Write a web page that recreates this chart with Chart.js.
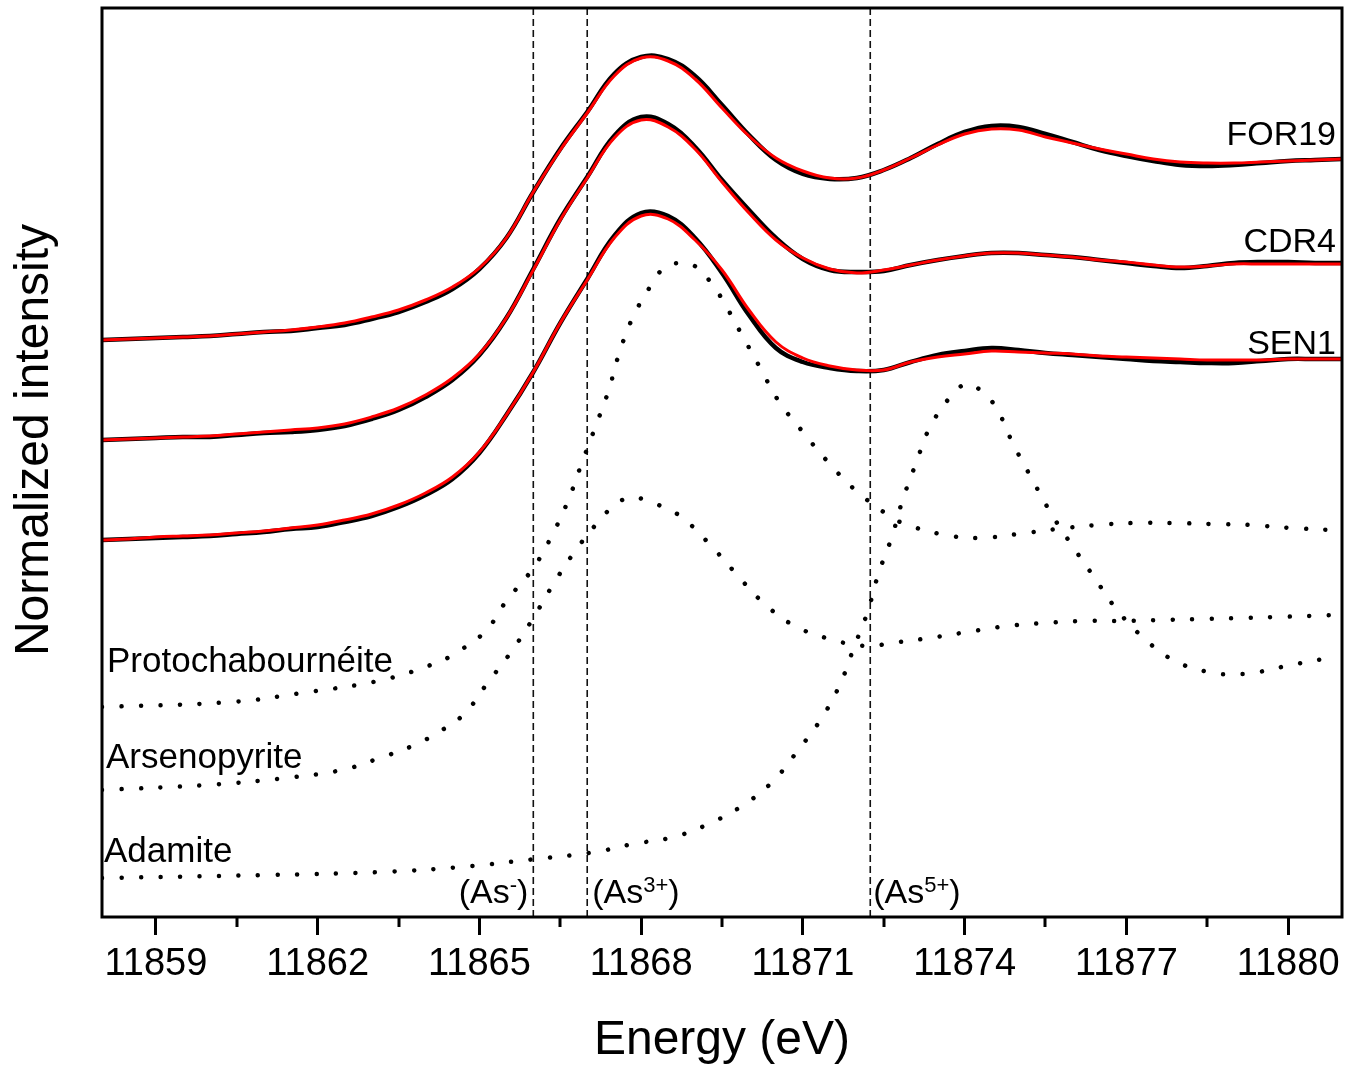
<!DOCTYPE html>
<html>
<head>
<meta charset="utf-8">
<script src="https://cdn.jsdelivr.net/npm/chart.js@4.4.0/dist/chart.umd.min.js"></script>
<style>
  html, body { margin: 0; padding: 0; background: #fff; }
  #wrap { width: 1357px; height: 1072px; }
</style>
</head>
<body>
<div id="wrap"><canvas id="xanes"></canvas></div>
<script>
// energy grid shared by the sample spectra (eV)
const energies = [11858, 11858.5, 11859, 11859.5, 11860, 11860.5, 11861, 11861.5, 11862, 11862.5,
  11863, 11863.5, 11864, 11864.5, 11865, 11865.5, 11866, 11866.5, 11867, 11867.5,
  11868, 11868.5, 11869, 11869.5, 11870, 11870.5, 11871, 11871.5, 11872, 11872.5,
  11873, 11873.5, 11874, 11874.5, 11875, 11875.5, 11876, 11876.5, 11877, 11877.5,
  11878, 11878.5, 11879, 11879.5, 11880, 11880.5, 11881];

// measured spectra (black) and linear-combination fits (red), stacked with offsets
const for19Data = [5.77, 5.78, 5.79, 5.80, 5.81, 5.83, 5.85, 5.86, 5.89, 5.92,
  5.98, 6.05, 6.15, 6.28, 6.48, 6.79, 7.25, 7.68, 8.05, 8.43,
  8.60, 8.58, 8.41, 8.12, 7.82, 7.57, 7.43, 7.38, 7.39, 7.47,
  7.59, 7.73, 7.85, 7.91, 7.90, 7.83, 7.75, 7.67, 7.61, 7.56,
  7.52, 7.51, 7.52, 7.54, 7.56, 7.57, 7.58];
const for19Fit = [5.77, 5.78, 5.79, 5.80, 5.81, 5.83, 5.85, 5.87, 5.90, 5.94,
  6.00, 6.07, 6.17, 6.30, 6.49, 6.79, 7.25, 7.67, 8.04, 8.41,
  8.59, 8.56, 8.38, 8.09, 7.81, 7.59, 7.46, 7.39, 7.39, 7.47,
  7.59, 7.72, 7.83, 7.88, 7.87, 7.80, 7.74, 7.68, 7.63, 7.58,
  7.55, 7.54, 7.54, 7.55, 7.56, 7.57, 7.58];

const cdr4Data = [4.77, 4.78, 4.79, 4.80, 4.80, 4.82, 4.84, 4.85, 4.87, 4.91,
  4.98, 5.07, 5.20, 5.37, 5.62, 5.99, 6.48, 6.98, 7.40, 7.81,
  8.00, 7.93, 7.70, 7.37, 7.07, 6.79, 6.58, 6.47, 6.45, 6.46,
  6.52, 6.57, 6.61, 6.64, 6.64, 6.62, 6.60, 6.57, 6.54, 6.51,
  6.49, 6.51, 6.54, 6.55, 6.55, 6.54, 6.54];
const cdr4Fit = [4.77, 4.78, 4.79, 4.80, 4.81, 4.83, 4.85, 4.87, 4.89, 4.93,
  5.00, 5.09, 5.22, 5.39, 5.63, 5.99, 6.47, 6.97, 7.39, 7.79,
  7.97, 7.90, 7.68, 7.35, 7.04, 6.77, 6.59, 6.48, 6.44, 6.47,
  6.52, 6.57, 6.61, 6.64, 6.64, 6.62, 6.60, 6.57, 6.55, 6.52,
  6.50, 6.51, 6.53, 6.53, 6.53, 6.53, 6.53];

const sen1Data = [3.77, 3.78, 3.79, 3.80, 3.81, 3.83, 3.85, 3.88, 3.90, 3.95,
  4.01, 4.10, 4.22, 4.38, 4.64, 5.02, 5.45, 5.94, 6.38, 6.81,
  7.04, 7.01, 6.79, 6.44, 6.02, 5.69, 5.55, 5.49, 5.46, 5.47,
  5.55, 5.62, 5.66, 5.69, 5.67, 5.64, 5.62, 5.60, 5.58, 5.56,
  5.55, 5.54, 5.54, 5.56, 5.58, 5.58, 5.58];
const sen1Fit = [3.77, 3.78, 3.80, 3.81, 3.82, 3.84, 3.86, 3.89, 3.92, 3.97,
  4.03, 4.12, 4.24, 4.40, 4.65, 5.02, 5.45, 5.94, 6.37, 6.79,
  7.01, 6.98, 6.77, 6.47, 6.07, 5.75, 5.59, 5.51, 5.47, 5.47,
  5.55, 5.60, 5.63, 5.66, 5.65, 5.64, 5.63, 5.61, 5.60, 5.59,
  5.58, 5.57, 5.57, 5.57, 5.58, 5.58, 5.58];

// reference minerals (dotted)
const protoEnergy = [11858, 11860.4, 11861.7, 11863.2, 11864.2, 11864.5, 11865.1, 11865.5, 11866, 11866.35,
  11866.65, 11866.9, 11867.15, 11867.4, 11867.6, 11867.85, 11868.2, 11868.45, 11868.8, 11869.05,
  11869.3, 11869.5, 11869.85, 11870.2, 11870.55, 11871, 11871.45, 11871.95, 11872.55, 11872.85,
  11873.55, 11874.25, 11875, 11875.7, 11876.45, 11877.15, 11877.85, 11878.6, 11879.3, 11880.05, 11880.8];
const protoIntensity = [2.10, 2.15, 2.24, 2.37, 2.54, 2.62, 2.85, 3.16, 3.49, 3.82,
  4.17, 4.54, 4.90, 5.27, 5.65, 6.00, 6.33, 6.50, 6.54, 6.49,
  6.34, 6.18, 5.84, 5.50, 5.16, 4.85, 4.56, 4.28, 4.03, 3.94,
  3.83, 3.79, 3.83, 3.88, 3.92, 3.94, 3.94, 3.93, 3.92, 3.89, 3.87];

const arsenoEnergy = [11858, 11859.95, 11861.4, 11862.45, 11863.15, 11863.8, 11864.15, 11864.7, 11865.15, 11865.6,
  11866, 11866.35, 11866.75, 11867.2, 11867.45, 11867.75, 11868.1, 11868.4, 11868.75, 11869.25,
  11869.75, 11870.25, 11870.85, 11871.55, 11871.9, 11872.25, 11872.65, 11873.35, 11874.05, 11874.8,
  11875.5, 11876.2, 11876.95, 11877.65, 11878.35, 11879.1, 11879.8, 11880.9];
const arsenoIntensity = [1.27, 1.32, 1.39, 1.47, 1.59, 1.72, 1.82, 2.02, 2.34, 2.66,
  2.99, 3.31, 3.64, 3.95, 4.09, 4.19, 4.17, 4.10, 4.00, 3.74,
  3.44, 3.15, 2.91, 2.77, 2.73, 2.71, 2.74, 2.79, 2.85, 2.91,
  2.94, 2.96, 2.96, 2.97, 2.98, 2.99, 3.00, 3.02];

const adamEnergy = [11858, 11861.05, 11863.2, 11864.65, 11866.05, 11867.15, 11867.85, 11868.6, 11869.25, 11869.9,
  11870.45, 11870.9, 11871.35, 11871.7, 11871.95, 11872.2, 11872.4, 11872.65, 11872.85, 11873.1,
  11873.35, 11873.75, 11874.05, 11874.35, 11874.6, 11874.9, 11875.25, 11875.6, 11876, 11876.4,
  11876.8, 11877.3, 11877.9, 11878.6, 11879, 11879.35, 11880.05, 11880.75];
const adamIntensity = [0.39, 0.42, 0.45, 0.50, 0.58, 0.65, 0.73, 0.80, 0.93, 1.12,
  1.36, 1.66, 1.99, 2.34, 2.70, 3.05, 3.43, 3.80, 4.17, 4.54,
  4.89, 5.21, 5.33, 5.24, 5.08, 4.73, 4.38, 4.04, 3.71, 3.40,
  3.09, 2.80, 2.56, 2.44, 2.43, 2.44, 2.52, 2.59];

// white-line positions of the arsenic oxidation states
const edgeEnergies = [11866, 11867, 11872.25];
const edgeStates = ['-', '3+', '5+'];

const tickValues = [11859, 11862, 11865, 11868, 11871, 11874, 11877, 11880];
const minorTickValues = [11860.5, 11863.5, 11866.5, 11869.5, 11872.5, 11875.5, 11878.5];

const Y_MAX = 9.09;
const FONT = '"Liberation Sans", Arial, sans-serif';

const pts = (xs, ys) => xs.map((x, i) => ({ x, y: ys[i] }));

function measured(ys) {
  return {
    data: pts(energies, ys), borderColor: '#000', borderWidth: 4.5,
    pointRadius: 0, tension: 0.4, order: 1
  };
}
function fitted(ys) {
  return {
    data: pts(energies, ys), borderColor: '#ff0000', borderWidth: 3,
    pointRadius: 0, tension: 0.4, order: 0
  };
}
function reference(xs, ys) {
  return {
    data: pts(xs, ys), borderColor: '#000', borderWidth: 4.5,
    borderDash: [0.01, 19.5], borderCapStyle: 'round',
    pointRadius: 0, tension: 0.4, order: 2
  };
}
function edgeLine(e) {
  return {
    data: [{ x: e, y: 0 }, { x: e, y: Y_MAX }], borderColor: '#111', borderWidth: 1.6,
    borderDash: [7, 4], pointRadius: 0, order: 3
  };
}

// sample names, mineral names and oxidation state tags
function drawState(ctx, state, x, y, alignRight) {
  const base = '34px ' + FONT, sup = '22px ' + FONT;
  ctx.font = base;
  const w1 = ctx.measureText('(As').width;
  const w3 = ctx.measureText(')').width;
  ctx.font = sup;
  const w2 = ctx.measureText(state).width;
  let left = alignRight ? x - (w1 + w2 + w3) : x;
  ctx.textAlign = 'left';
  ctx.textBaseline = 'alphabetic';
  ctx.font = base;
  ctx.fillText('(As', left, y);
  ctx.font = sup;
  ctx.fillText(state, left + w1, y - 11);
  ctx.font = base;
  ctx.fillText(')', left + w1 + w2, y);
}

const annotations = {
  id: 'annotations',
  afterDatasetsDraw(chart) {
    const { ctx, chartArea: a, scales: { x, y } } = chart;
    ctx.save();
    ctx.fillStyle = '#000';
    ctx.textBaseline = 'alphabetic';

    ctx.font = '34px ' + FONT;
    ctx.textAlign = 'right';
    ctx.fillText('FOR19', a.right - 6, y.getPixelForValue(7.72));
    ctx.fillText('CDR4', a.right - 6, y.getPixelForValue(6.65));
    ctx.fillText('SEN1', a.right - 6, y.getPixelForValue(5.63));

    ctx.font = '35px ' + FONT;
    ctx.textAlign = 'left';
    ctx.fillText('Protochabournéite', a.left + 5, y.getPixelForValue(2.45));
    ctx.fillText('Arsenopyrite', a.left + 4, y.getPixelForValue(1.49));
    ctx.fillText('Adamite', a.left + 2, y.getPixelForValue(0.55));

    const base = y.getPixelForValue(0.14);
    drawState(ctx, edgeStates[0], x.getPixelForValue(edgeEnergies[0]) - 5, base, true);
    drawState(ctx, edgeStates[1], x.getPixelForValue(edgeEnergies[1]) + 5, base, false);
    drawState(ctx, edgeStates[2], x.getPixelForValue(edgeEnergies[2]) + 3, base, false);

    // plot frame
    ctx.strokeStyle = '#000';
    ctx.lineWidth = 3;
    ctx.strokeRect(a.left, a.top, a.right - a.left, a.bottom - a.top);

    // minor ticks
    ctx.beginPath();
    minorTickValues.forEach(v => {
      const px = Math.round(x.getPixelForValue(v));
      ctx.moveTo(px, a.bottom);
      ctx.lineTo(px, a.bottom + 10);
    });
    ctx.stroke();

    // y axis title
    ctx.translate(48, 440);
    ctx.rotate(-Math.PI / 2);
    ctx.font = '48px ' + FONT;
    ctx.textAlign = 'center';
    ctx.fillText('Normalized intensity', 0, 0);
    ctx.restore();
  }
};

new Chart(document.getElementById('xanes'), {
  type: 'line',
  data: {
    datasets: [
      fitted(for19Fit), fitted(cdr4Fit), fitted(sen1Fit),
      measured(for19Data), measured(cdr4Data), measured(sen1Data),
      reference(protoEnergy, protoIntensity),
      reference(arsenoEnergy, arsenoIntensity),
      reference(adamEnergy, adamIntensity),
      ...edgeEnergies.map(edgeLine)
    ]
  },
  options: {
    responsive: true,
    maintainAspectRatio: false,
    animation: false,
    events: [],
    layout: { padding: { top: 8, right: 15, left: 0, bottom: 0 } },
    plugins: { legend: { display: false }, tooltip: { enabled: false } },
    scales: {
      x: {
        type: 'linear',
        min: 11858,
        max: 11881,
        afterBuildTicks: s => { s.ticks = tickValues.map(v => ({ value: v })); },
        afterFit: s => { s.height = 155; },
        ticks: {
          color: '#000',
          font: { family: FONT, size: 38 },
          padding: 7,
          maxRotation: 0,
          autoSkip: false,
          callback: v => String(v)
        },
        grid: {
          drawOnChartArea: false,
          drawTicks: true,
          tickLength: 18,
          tickWidth: 3,
          tickColor: '#000'
        },
        border: { display: false },
        title: {
          display: true,
          text: 'Energy (eV)',
          color: '#000',
          font: { family: FONT, size: 48 },
          padding: { top: 0, bottom: 2 }
        }
      },
      y: {
        min: 0,
        max: Y_MAX,
        afterFit: s => { s.width = 102; },
        ticks: { display: false },
        grid: { display: false },
        border: { display: false }
      }
    }
  },
  plugins: [annotations]
});
</script>
</body>
</html>
